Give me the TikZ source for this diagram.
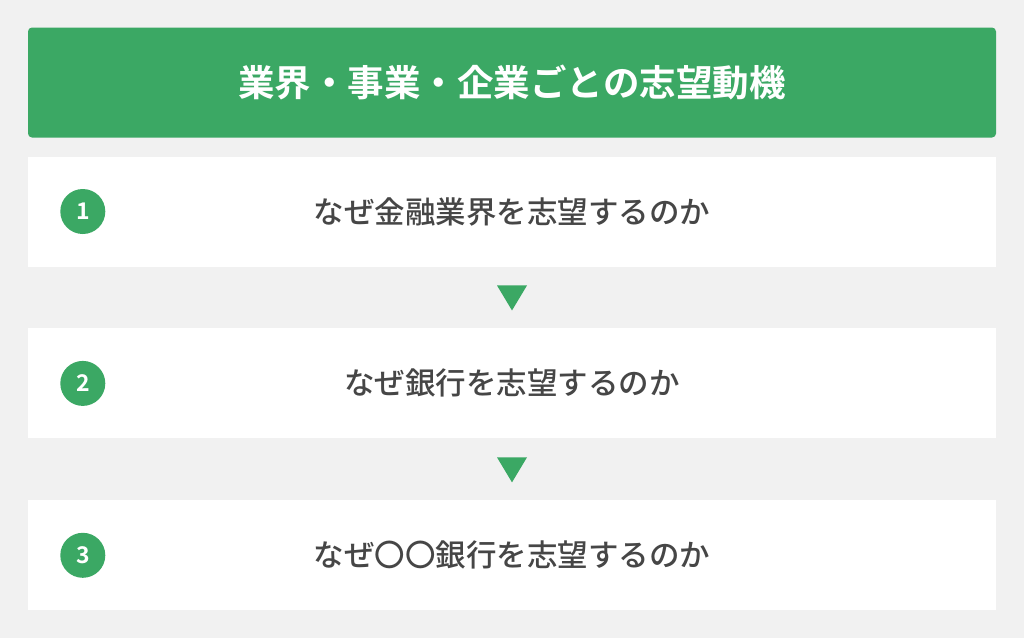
\documentclass[tikz,border=0pt]{standalone}
\usepackage{fontspec}
\setmainfont{Noto Sans CJK JP}[BoldFont={Noto Sans CJK JP Bold}]
\newfontfamily\jpmedium{Noto Sans CJK JP Medium}
\usepackage{tikz}
\usetikzlibrary{positioning,%
  calc}
\definecolor{hdgreen}{HTML}{3BA864}
\definecolor{bggray}{HTML}{F1F1F1}
\definecolor{txtgray}{HTML}{464646}

\begin{document}
\begin{tikzpicture}[x=1pt,y=-1pt,
    header/.style={fill=hdgreen, rounded corners=4pt, minimum width=968pt, minimum height=110pt,
      text=white, font=\fontsize{36.5}{40}\selectfont\bfseries, inner sep=0pt},
    stepbox/.style={fill=white, minimum width=968pt, minimum height=110pt,
      text=txtgray, font=\fontsize{30.5}{36}\selectfont\jpmedium, inner sep=0pt},
    numdot/.style={circle, fill=hdgreen, minimum size=45pt, inner sep=0pt,
      text=white, font=\fontsize{23}{26}\selectfont\bfseries},
    downmark/.style={fill=hdgreen}]
  \fill [bggray] (0,0) rectangle (1024,638);
  \useasboundingbox (0,0) rectangle (1024,638);

  \node [header] (title) at (512,82.5) {業界・事業・企業ごとの志望動機};

  \node [stepbox] (step1) at (512,211.5) {なぜ金融業界を志望するのか};
  \node [stepbox, below=61.5pt of step1] (step2) {なぜ銀行を志望するのか};
  \node [stepbox, below=61.5pt of step2] (step3) {なぜ〇〇銀行を志望するのか};

  \foreach \i in {1,2,3}
    \node [numdot] (num\i) at ($(step\i.west)+(55,0)$) {\i};

  % down markers between the boxes
  \foreach \a/\b in {1/2,2/3} {
    \coordinate (mid\a) at ($(step\a.south)!.5!(step\b.north)$);
    \fill [downmark] ($(mid\a)+(-15,-12)$) -- ($(mid\a)+(15,-12)$) -- ($(mid\a)+(0,13)$) -- cycle;
  }
\end{tikzpicture}
\end{document}
